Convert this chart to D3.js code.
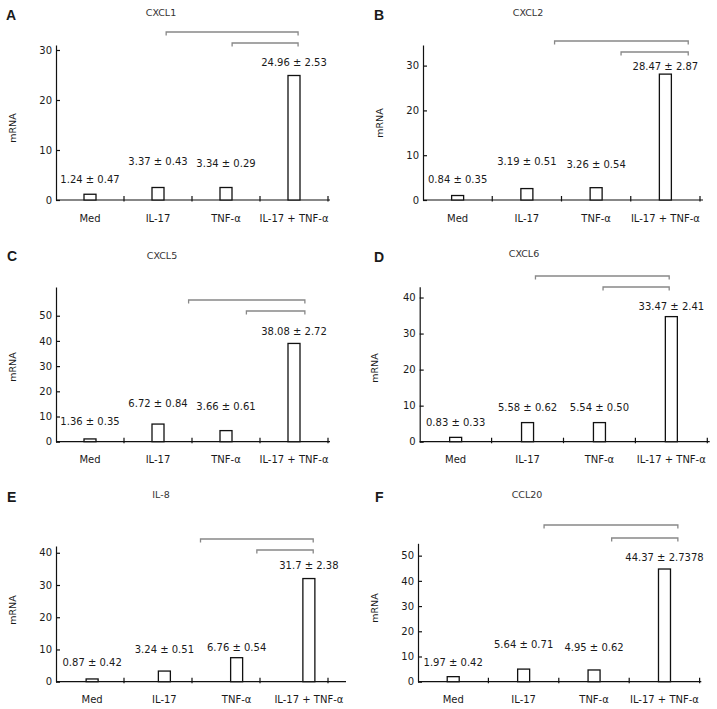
<!DOCTYPE html>
<html lang="en">
<head>
<meta charset="UTF-8">
<title>Chemokine mRNA</title>
<script src="https://cdn.jsdelivr.net/npm/d3@7"></script>
<style>
body { margin: 0; background: #fff; }
svg text { font-family: 'DejaVu Sans', Verdana, sans-serif; fill: #1a1a1a; }
</style>
</head>
<body>
<svg id="chart" width="717" height="709"></svg>
<script>
// categories and genes
const categories = ["Med", "IL-17", "TNF-\u03b1", "IL-17 + TNF-\u03b1"];
const genes = ["CXCL1", "CXCL2", "CXCL5", "CXCL6", "IL-8", "CCL20"];
const letters = ["A", "B", "C", "D", "E", "F"];

// bar heights as drawn in the figure
const cxcl1 = [1.15, 2.5, 2.5, 24.9];
const cxcl2 = [1.0, 2.55, 2.75, 28.1];
const cxcl5 = [1.1, 7.0, 4.4, 39.0];
const cxcl6 = [1.2, 5.3, 5.3, 34.7];
const il8 = [0.85, 3.3, 7.45, 32.0];
const ccl20 = [2.0, 5.0, 4.65, 44.7];

// mean ± SD labels printed over the bars
const cxcl1Labels = ["1.24 ± 0.47", "3.37 ± 0.43", "3.34 ± 0.29", "24.96 ± 2.53"];
const cxcl2Labels = ["0.84 ± 0.35", "3.19 ± 0.51", "3.26 ± 0.54", "28.47 ± 2.87"];
const cxcl5Labels = ["1.36 ± 0.35", "6.72 ± 0.84", "3.66 ± 0.61", "38.08 ± 2.72"];
const cxcl6Labels = ["0.83 ± 0.33", "5.58 ± 0.62", "5.54 ± 0.50", "33.47 ± 2.41"];
const il8Labels = ["0.87 ± 0.42", "3.24 ± 0.51", "6.76 ± 0.54", "31.7 ± 2.38"];
const ccl20Labels = ["1.97 ± 0.42", "5.64 ± 0.71", "4.95 ± 0.62", "44.37 ± 2.7378"];

// y tick values
const ticks30 = [0, 10, 20, 30];
const ticks40 = [0, 10, 20, 30, 40];
const ticks50 = [0, 10, 20, 30, 40, 50];

const values = [cxcl1, cxcl2, cxcl5, cxcl6, il8, ccl20];
const labels = [cxcl1Labels, cxcl2Labels, cxcl5Labels, cxcl6Labels, il8Labels, ccl20Labels];
const yTicks = [ticks30, ticks30, ticks50, ticks40, ticks40, ticks50];
const yMax = [31, 34.6, 61.4, 43, 42.1, 54.9];

// layout of each panel (pixels)
const layout = [
  {x0: 56, x1: 328, end: 330, step: 68, y0: 200, top: 45, title: [161, 13], letter: [6, 20], ylab: [13, 128], xlabY: 218,
   lift: [15, 26, 24, 13], brTop: [1.62, 3.56, 32], brLow: [2.59, 3.56, 43]},
  {x0: 423, x1: 700, end: 703, step: 69.25, y0: 200, top: 45, title: [528, 13], letter: [374, 20], ylab: [380, 123], xlabY: 218,
   lift: [16, 27, 23, 8], brTop: [1.90, 3.83, 41], brLow: [2.86, 3.83, 52]},
  {x0: 56, x1: 328, end: 330, step: 68, y0: 441.7, top: 287, title: [162, 256], letter: [7, 261], ylab: [13, 367], xlabY: 459,
   lift: [17, 21, 24, 12], brTop: [1.95, 3.66, 300], brLow: [2.80, 3.66, 311]},
  {x0: 419.7, x1: 707.3, end: 709.7, step: 71.9, y0: 441.7, top: 286.7, title: [524, 254], letter: [374, 262], ylab: [375, 368], xlabY: 459,
   lift: [15, 15, 15, 10], brTop: [1.61, 3.47, 276], brLow: [2.55, 3.47, 287]},
  {x0: 56, x1: 345, end: 346, step: 68, y0: 681.7, top: 546, title: [161, 495], letter: [7, 502], ylab: [13, 610], xlabY: 699,
   lift: [16, 22, 10, 13], brTop: [2.00, 3.56, 539], brLow: [2.78, 3.56, 550]},
  {x0: 418, x1: 699.7, end: 701.3, step: 70.4, y0: 681.7, top: 543.3, title: [527, 495], letter: [375, 502], ylab: [375, 608], xlabY: 699,
   lift: [14, 25, 22, 12], brTop: [1.79, 3.69, 525], brLow: [2.75, 3.69, 538]}
];

const svg = d3.select("#chart");
svg.append("rect").attr("width", 717).attr("height", 709).attr("fill", "#fff");

genes.forEach((gene, i) => {
  const L = layout[i];
  const g = svg.append("g");

  const x = d3.scaleBand().domain(categories).range([L.x0, L.x1]);
  const y = d3.scaleLinear().domain([0, yMax[i]]).range([L.y0, L.top]);
  const pos = f => L.x0 + f * (L.x1 - L.x0) / categories.length;

  // panel letter and title
  g.append("text").attr("x", L.letter[0]).attr("y", L.letter[1])
    .style("font-family", "'Liberation Sans', Arial, sans-serif")
    .style("font-weight", "bold").style("font-size", "14px").text(letters[i]);
  g.append("text").attr("x", L.title[0]).attr("y", L.title[1]).attr("dy", "0.35em")
    .attr("text-anchor", "middle").style("font-size", "9.5px").style("fill", "#333").text(gene);

  // y axis, ticks pointing inward
  const yAxis = g.append("g").attr("transform", `translate(${L.x0},0)`)
    .call(d3.axisLeft(y).tickValues(yTicks[i]).tickSizeInner(-4).tickSizeOuter(0).tickPadding(4));
  yAxis.selectAll("path, line").attr("stroke", "#111").attr("stroke-width", 1.2);
  yAxis.selectAll("text").style("font-size", "10px").style("font-family", "'DejaVu Sans', sans-serif");

  g.append("text")
    .attr("transform", `translate(${L.ylab[0]},${L.ylab[1]}) rotate(-90)`)
    .attr("text-anchor", "middle").attr("dy", "0.35em")
    .style("font-size", "9.5px").text("mRNA");

  // x axis line with separator ticks
  g.append("line").attr("x1", L.x0).attr("x2", L.end).attr("y1", L.y0).attr("y2", L.y0)
    .attr("stroke", "#111").attr("stroke-width", 1.2);
  g.selectAll(".xtick").data(d3.range(1, 5)).join("line")
    .attr("x1", k => L.x0 + k * L.step).attr("x2", k => L.x0 + k * L.step)
    .attr("y1", L.y0 - 4).attr("y2", L.y0 + 1.5)
    .attr("stroke", "#111").attr("stroke-width", 1.2);

  g.selectAll(".xlab").data(categories).join("text")
    .attr("x", d => x(d) + x.bandwidth() / 2).attr("y", L.xlabY).attr("dy", "0.35em")
    .attr("text-anchor", "middle").style("font-size", "10px").text(d => d);

  // bars
  const bw = 12;
  g.selectAll(".bar").data(values[i]).join("rect")
    .attr("x", (d, j) => x(categories[j]) + x.bandwidth() / 2 - bw / 2)
    .attr("y", d => y(d))
    .attr("width", bw).attr("height", d => L.y0 - y(d))
    .attr("fill", "#fff").attr("stroke", "#111").attr("stroke-width", 1.3);

  // value labels
  g.selectAll(".val").data(labels[i]).join("text")
    .attr("x", (d, j) => x(categories[j]) + x.bandwidth() / 2)
    .attr("y", (d, j) => y(values[i][j]) - L.lift[j]).attr("dy", "0.35em")
    .attr("text-anchor", "middle").style("font-size", "10px").text(d => d);

  // significance brackets
  [L.brTop, L.brLow].forEach(b => {
    const xa = pos(b[0]), xb = pos(b[1]), yy = b[2];
    g.append("path")
      .attr("d", `M${xa},${yy + 3.5}V${yy}H${xb}V${yy + 3.5}`)
      .attr("fill", "none").attr("stroke", "#888").attr("stroke-width", 1.3);
  });
});
</script>
</body>
</html>
